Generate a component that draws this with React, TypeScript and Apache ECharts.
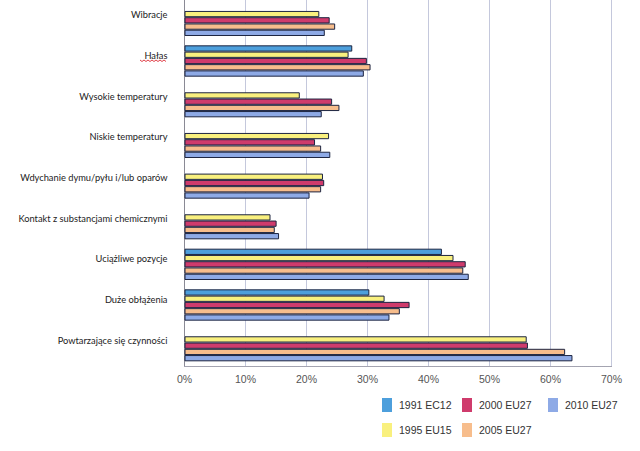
import React, { useEffect, useRef } from "react";
import * as echarts from "echarts";

const categories = [
  "Wibracje",
  "Hałas",
  "Wysokie temperatury",
  "Niskie temperatury",
  "Wdychanie dymu/pyłu i/lub oparów",
  "Kontakt z substancjami chemicznymi",
  "Uciążliwe pozycje",
  "Duże obłążenia",
  "Powtarzające się czynności",
];

const seriesNames = ["1991 EC12", "1995 EU15", "2000 EU27", "2005 EU27", "2010 EU27"];

const v1991: (number | null)[] = [null, 27.5, null, null, null, null, 42.2, 30.3, null];
const v1995: (number | null)[] = [22.1, 26.9, 18.9, 23.7, 22.7, 14.1, 44.1, 32.8, 56.1];
const v2000: (number | null)[] = [23.8, 29.9, 24.2, 21.4, 22.9, 15.1, 46.1, 36.9, 56.3];
const v2005: (number | null)[] = [24.7, 30.5, 25.4, 22.4, 22.4, 14.8, 45.7, 35.3, 62.4];
const v2010: (number | null)[] = [23.0, 29.4, 22.5, 23.9, 20.5, 15.5, 46.6, 33.6, 63.6];

const colors = ["#4d9fdc", "#f9f07e", "#cf3b6c", "#f7bd8c", "#8eaae6"];

const xTicks = [0, 10, 20, 30, 40, 50, 60, 70];

export default function App() {
  const ref = useRef<HTMLDivElement>(null);
  useEffect(() => {
    if (!ref.current) return;
    const chart = echarts.init(ref.current, null, { renderer: "svg" });
    const values = [v1991, v1995, v2000, v2005, v2010];
    const sans = "'Liberation Sans', Arial, sans-serif";
    const legendPos = [
      { left: 382, top: 398 },
      { left: 382, top: 423 },
      { left: 462, top: 398 },
      { left: 462, top: 423 },
      { left: 548, top: 398 },
    ];
    chart.setOption({
      animation: false,
      backgroundColor: "#ffffff",
      grid: { left: 184.5, right: 28.5, top: -4, bottom: 85, containLabel: false },
      legend: seriesNames.map((n, i) => ({
        data: [n],
        left: legendPos[i].left,
        top: legendPos[i].top,
        padding: 0,
        itemWidth: 10,
        itemHeight: 14,
        itemGap: 7,
        icon: "rect",
        selectedMode: false,
        itemStyle: { borderWidth: 0 },
        textStyle: { fontFamily: sans, fontSize: 10.5, color: "#333", padding: [0, 0, 0, 2] },
      })),
      xAxis: {
        type: "value",
        min: xTicks[0],
        max: xTicks[xTicks.length - 1],
        interval: 10,
        axisLine: { show: true, lineStyle: { color: "#9a9aa8", type: "dotted", width: 1 } },
        axisTick: { show: false },
        axisLabel: {
          formatter: "{value}%",
          color: "#555",
          fontFamily: sans,
          fontSize: 10.5,
          margin: 7,
        },
        splitLine: { show: true, lineStyle: { color: "#c4c8dc", width: 1 } },
      },
      yAxis: {
        type: "category",
        data: categories,
        inverse: true,
        axisLine: { show: true, lineStyle: { color: "#8a8a95", width: 1 } },
        axisTick: { show: false },
        axisLabel: {
          color: "#222",
          fontFamily: "Lato, 'Open Sans', sans-serif",
          fontSize: 9.3,
          margin: 17,
          verticalAlign: "bottom",
          padding: [0, 0, 1, 0],
        },
      },
      series: seriesNames.map((n, i) => ({
        name: n,
        type: "bar",
        data: values[i],
        barGap: "0%",
        barCategoryGap: "23%",
        itemStyle: { color: colors[i], borderColor: "#1c2440", borderWidth: 1 },
      })),
      graphic: [
        {
          type: "polyline",
          shape: {
            points: [
              [140, 60], [142, 61.5], [144, 60], [146, 61.5], [148, 60], [150, 61.5],
              [152, 60], [154, 61.5], [156, 60], [158, 61.5], [160, 60], [162, 61.5],
              [164, 60], [166, 61.5],
            ],
          },
          style: { stroke: "#e0404a", lineWidth: 1, fill: "none" },
        },
      ],
    });
    return () => chart.dispose();
  }, []);
  return (
    <div
      ref={ref}
      style={{ position: "fixed", left: 0, top: 0, width: 640, height: 451 }}
    />
  );
}
